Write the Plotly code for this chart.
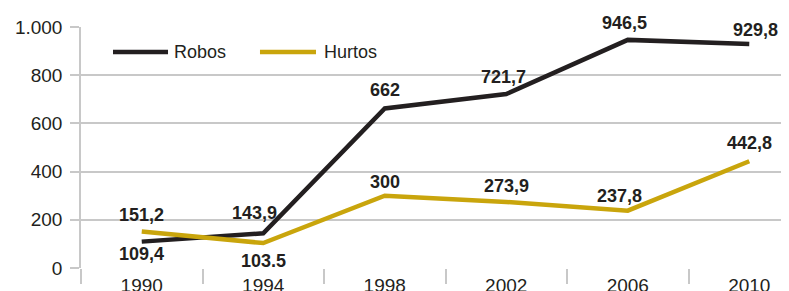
import plotly.graph_objects as go

years = ["1990", "1994", "1998", "2002", "2006", "2010"]
robos = [109.4, 143.9, 662, 721.7, 946.5, 929.8]
hurtos = [151.2, 103.5, 300, 273.9, 237.8, 442.8]
robos_labels = ["109,4", "143,9", "662", "721,7", "946,5", "929,8"]
hurtos_labels = ["151,2", "103.5", "300", "273,9", "237,8", "442,8"]
y_ticks = [0, 200, 400, 600, 800, 1000]
y_tick_text = ["0", "200", "400", "600", "800", "1.000"]

BLACK = "#231f20"
GOLD = "#c9a50c"
GRID = "#c8c8c8"
FONT = "Liberation Sans"

xs = list(range(len(years)))

fig = go.Figure()
fig.add_trace(go.Scatter(x=xs, y=robos, mode="lines", name="Robos",
                         line=dict(color=BLACK, width=4.5), showlegend=False))
fig.add_trace(go.Scatter(x=xs, y=hurtos, mode="lines", name="Hurtos",
                         line=dict(color=GOLD, width=4.5), showlegend=False))

# label offsets (pixels)
robos_pos = [(0, 12), (-9, -20), (0, -18), (-3, -17), (-3, -17), (6, -14)]
hurtos_pos = [(0, -17), (0, 18), (0, -14), (0, -16), (-8, -15), (0, -18)]
for i in xs:
    dx, dy = robos_pos[i]
    fig.add_annotation(x=xs[i], y=robos[i], text=robos_labels[i], showarrow=False,
                       xshift=dx, yshift=-dy,
                       font=dict(family=FONT, size=18, color=BLACK, weight="bold"))
    dx, dy = hurtos_pos[i]
    fig.add_annotation(x=xs[i], y=hurtos[i], text=hurtos_labels[i], showarrow=False,
                       xshift=dx, yshift=-dy,
                       font=dict(family=FONT, size=18, color=BLACK, weight="bold"))

# custom legend (long line samples)
legend_items = [("Robos", BLACK, 0.0452, 0.1229, 0.1285),
                ("Hurtos", GOLD, 0.2528, 0.3319, 0.3404)]
for name, col, x0, x1, xt in legend_items:
    fig.add_shape(type="line", xref="paper", yref="paper", x0=x0, x1=x1, y0=0.896, y1=0.896,
                  line=dict(color=col, width=4.5))
    fig.add_annotation(xref="paper", yref="paper", x=xt, y=0.896, text=name, showarrow=False,
                       xanchor="left", yanchor="middle",
                       font=dict(family=FONT, size=18, color=BLACK))

fig.update_layout(
    width=781, height=283,
    margin=dict(l=73, r=0, t=19, b=23, autoexpand=False),
    paper_bgcolor="white", plot_bgcolor="white",
    font=dict(family=FONT, color=BLACK),
    showlegend=False,
    xaxis=dict(range=[-0.5, 5.327], tickmode="array", tickvals=xs, ticktext=years,
               ticks="", showgrid=False, zeroline=False, showline=False,
               tickfont=dict(family=FONT, size=19, color=BLACK), ticklabelstandoff=4,
               minor=dict(tickmode="array", tickvals=[-0.5, 0.5, 1.5, 2.5, 3.5, 4.5, 5.5],
                          ticks="outside", ticklen=15, tickcolor=GRID, tickwidth=1.5,
                          showgrid=False)),
    yaxis=dict(range=[0, 1000], tickmode="array", tickvals=y_ticks, ticktext=y_tick_text,
               ticks="outside", ticklen=9, tickcolor=GRID, tickwidth=1.5,
               showgrid=True, gridcolor=GRID, gridwidth=1.5, zeroline=False,
               showline=True, linecolor=GRID, linewidth=1.5,
               tickfont=dict(family=FONT, size=19, color=BLACK), ticklabelstandoff=4),
)

fig.write_html("out.html")
